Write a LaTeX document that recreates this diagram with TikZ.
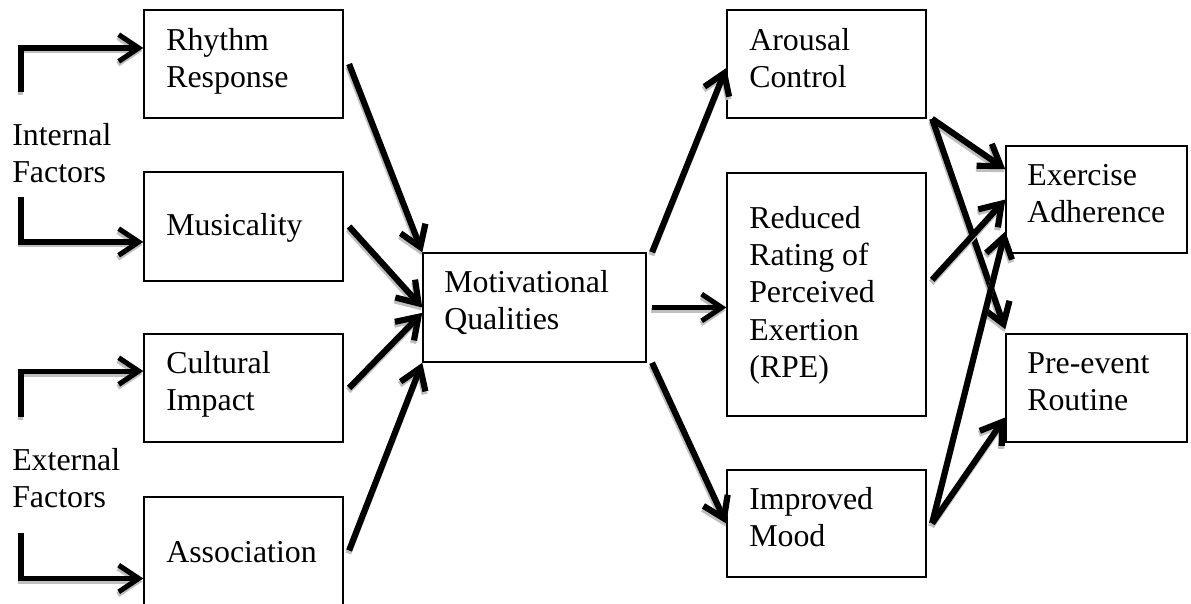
\documentclass[tikz,border=0pt]{standalone}
\usepackage{fontspec}
\setmainfont{Liberation Serif}
\usetikzlibrary{arrows.meta,fit,calc}
% left-aligned stack of lines whose baseline is the first line
\newcommand\txtstack[1]{\begin{tabular}[t]{@{}l@{}}#1\end{tabular}}
% a connector with its soft grey drop shadow underneath
\newcommand\link[2][]{\draw[shd,#1] #2; \draw[arr,#1] #2;}

\begin{document}
\begin{tikzpicture}[x=0.75pt,y=-0.75pt,
  box/.style={draw, line width=1.1pt, inner sep=0pt},
  lbl/.style={anchor=base west, inner sep=0pt, font=\fontsize{23.9pt}{28pt}\selectfont},
  tipshape/.style={-{Straight Barb[length=15pt,width=20pt]}},
  arr/.style={line width=3.8pt, line join=miter, tipshape},
  shd/.style={arr, draw=black!25, transform canvas={shift={(-0.6pt,-2.2pt)}}},
  slant/.style={line width=4.6pt},
]
\useasboundingbox (0,0) rectangle (1191,603);
\clip (0,0) rectangle (1191,603);

% boxes
\node[box, fit={(144,10) (343,118)}]   (rhythm)   {};
\node[box, fit={(144,172) (343,281)}]  (music)    {};
\node[box, fit={(144,334) (343,442)}]  (cultural) {};
\node[box, fit={(144,497) (343,660)}]  (assoc)    {};
\node[box, fit={(423,253) (646,362)}]  (motiv)    {};
\node[box, fit={(727,10) (926,118)}]   (arousal)  {};
\node[box, fit={(727,173) (926,416)}]  (rpe)      {};
\node[box, fit={(727,470) (926,577)}]  (mood)     {};
\node[box, fit={(1006,146) (1187,253)}] (adher)   {};
\node[box, fit={(1006,334) (1187,442)}] (routine) {};

% texts
\node[lbl] (t-rhythm)   at (166,50)   {\txtstack{Rhythm\\Response}};
\node[lbl] (t-music)    at (166,235)  {Musicality};
\node[lbl] (t-cultural) at (166,373)  {\txtstack{Cultural\\Impact}};
\node[lbl] (t-assoc)    at (166,562)  {Association};
\node[lbl] (t-motiv)    at (444,292)  {\txtstack{Motivational\\Qualities}};
\node[lbl] (t-arousal)  at (749,50)   {\txtstack{Arousal\\Control}};
\node[lbl] (t-rpe)      at (749,228)  {\txtstack{Reduced\\Rating of\\Perceived\\Exertion\\(RPE)}};
\node[lbl] (t-mood)     at (749,509)  {\txtstack{Improved\\Mood}};
\node[lbl] (t-adher)    at (1027,185) {\txtstack{Exercise\\Adherence}};
\node[lbl] (t-routine)  at (1027,373) {\txtstack{Pre-event\\Routine}};
\node[lbl] (t-internal) at (12,145)   {\txtstack{Internal\\Factors}};
\node[lbl] (t-external) at (12,470)   {\txtstack{External\\Factors}};

% bracket arrows from the factor labels
\coordinate (int-a) at (21,92);
\coordinate (int-b) at (21,197);
\coordinate (ext-a) at (21,417);
\coordinate (ext-b) at (21,533);
\link{(int-a) |- ([yshift=12pt]rhythm.west)}
\link{(int-b) |- ([yshift=-11.6pt]music.west)}
\link{(ext-a) |- ([yshift=12.7pt]cultural.west)}
\link{(ext-b) |- (assoc.west)}

% into motivational qualities
\link[slant]{([xshift=4pt]rhythm.east) -- (motiv.north west)}
\link[slant]{([xshift=4pt]music.east) -- (motiv.west)}
\link[slant]{([xshift=4pt]cultural.east) -- ([yshift=-4pt]motiv.west)}
\link[slant]{([xshift=4pt,yshift=21pt]assoc.east) -- (motiv.south west)}

% out of motivational qualities
\link[slant]{([xshift=4pt]motiv.north east) -- ([yshift=-3pt]arousal.west)}
\link{([xshift=4pt]motiv.east) -- (motiv.east -| rpe.west)}
\link[slant]{([xshift=4pt]motiv.south east) -- (mood.west)}

% outcomes
\link[slant]{([xshift=4pt]arousal.south east) -- ([yshift=-18pt]adher.north west)}
\link[slant]{([xshift=4pt]arousal.south east) -- ([yshift=3pt]routine.north west)}
\link[slant]{([xshift=4pt,yshift=11pt]rpe.east) -- (adher.west)}
\link[slant]{([xshift=4pt]mood.east) -- ([yshift=-24pt]adher.west)}
\link[slant]{([xshift=4pt]mood.east) -- ([yshift=19pt]routine.south west)}
\end{tikzpicture}
\end{document}
